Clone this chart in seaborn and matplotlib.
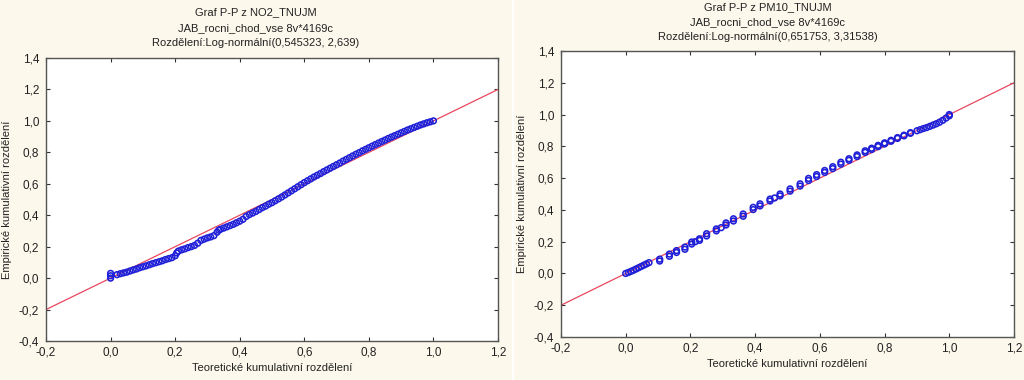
import matplotlib
matplotlib.use("Agg")
import matplotlib.pyplot as plt
import seaborn as sns
import pandas as pd
from matplotlib.lines import Line2D

# ---------------- data ----------------
titles_left = ["Graf P-P z NO2_TNUJM", "JAB_rocni_chod_vse 8v*4169c",
               "Rozdělení:Log-normální(0,545323, 2,639)"]
titles_right = ["Graf P-P z PM10_TNUJM", "JAB_rocni_chod_vse 8v*4169c",
                "Rozdělení:Log-normální(0,651753, 3,31538)"]
xlabel = "Teoretické kumulativní rozdělení"
ylabel = "Empirické kumulativní rozdělení"

xticks = [-0.2, 0.0, 0.2, 0.4, 0.6, 0.8, 1.0, 1.2]
xtick_labels = ["-0,2", "0,0", "0,2", "0,4", "0,6", "0,8", "1,0", "1,2"]
yticks = [-0.4, -0.2, 0.0, 0.2, 0.4, 0.6, 0.8, 1.0, 1.2, 1.4]
ytick_labels = ["-0,4", "-0,2", "0,0", "0,2", "0,4", "0,6", "0,8", "1,0", "1,2", "1,4"]

ref_line = [-0.2, 1.2]

no2_theor = [0.000, 0.000, 0.000, 0.020, 0.030, 0.040, 0.050, 0.060, 0.070, 0.080,
             0.090, 0.100, 0.110, 0.120, 0.130, 0.140, 0.150, 0.160, 0.170, 0.180,
             0.190, 0.200, 0.205, 0.210, 0.220, 0.230, 0.240, 0.250, 0.260, 0.270,
             0.280, 0.290, 0.300, 0.310, 0.320, 0.330, 0.335, 0.340, 0.350, 0.360,
             0.370, 0.380, 0.390, 0.400, 0.410, 0.420, 0.430, 0.440, 0.450, 0.460,
             0.470, 0.480, 0.490, 0.500, 0.510, 0.520, 0.530, 0.540, 0.550, 0.560,
             0.570, 0.580, 0.590, 0.600, 0.610, 0.620, 0.630, 0.640, 0.650, 0.660,
             0.670, 0.680, 0.690, 0.700, 0.710, 0.720, 0.730, 0.740, 0.750, 0.760,
             0.770, 0.780, 0.790, 0.800, 0.810, 0.820, 0.830, 0.840, 0.850, 0.860,
             0.870, 0.880, 0.890, 0.900, 0.910, 0.920, 0.930, 0.940, 0.950, 0.960,
             0.970, 0.980, 0.990, 1.000]
no2_emp = [0.000, 0.015, 0.030, 0.022, 0.028, 0.033, 0.038, 0.045, 0.052, 0.058,
           0.066, 0.072, 0.078, 0.085, 0.092, 0.098, 0.104, 0.110, 0.118, 0.124,
           0.130, 0.142, 0.160, 0.172, 0.180, 0.186, 0.194, 0.200, 0.208, 0.222,
           0.240, 0.248, 0.256, 0.262, 0.270, 0.292, 0.305, 0.310, 0.318, 0.326,
           0.334, 0.342, 0.352, 0.362, 0.374, 0.392, 0.404, 0.414, 0.424, 0.436,
           0.448, 0.458, 0.470, 0.480, 0.492, 0.504, 0.516, 0.529, 0.542, 0.555,
           0.568, 0.581, 0.594, 0.607, 0.619, 0.631, 0.643, 0.654, 0.665, 0.677,
           0.688, 0.699, 0.710, 0.721, 0.732, 0.744, 0.755, 0.766, 0.777, 0.788,
           0.798, 0.809, 0.819, 0.829, 0.839, 0.849, 0.859, 0.869, 0.878, 0.888,
           0.897, 0.906, 0.915, 0.924, 0.933, 0.942, 0.950, 0.958, 0.966, 0.974,
           0.981, 0.988, 0.994, 1.000]

pm10_theor = [0.000, 0.008, 0.016, 0.024, 0.032, 0.040, 0.048, 0.056, 0.064, 0.072,
              0.105, 0.105, 0.135, 0.135, 0.157, 0.157, 0.183, 0.183, 0.204, 0.204,
              0.215, 0.228, 0.228, 0.250, 0.250, 0.280, 0.280, 0.295, 0.310, 0.310,
              0.333, 0.333, 0.363, 0.363, 0.394, 0.394, 0.415, 0.415, 0.446, 0.446,
              0.460, 0.477, 0.477, 0.508, 0.508, 0.539, 0.539, 0.565, 0.565, 0.590,
              0.590, 0.615, 0.615, 0.640, 0.640, 0.665, 0.665, 0.690, 0.690, 0.715,
              0.715, 0.740, 0.740, 0.760, 0.760, 0.780, 0.780, 0.800, 0.800, 0.820,
              0.820, 0.840, 0.840, 0.860, 0.860, 0.880, 0.880, 0.900, 0.910, 0.920,
              0.930, 0.940, 0.950, 0.960, 0.970, 0.980, 0.990, 1.000, 1.000]
pm10_emp = [0.000, 0.006, 0.013, 0.020, 0.028, 0.036, 0.044, 0.052, 0.060, 0.068,
            0.078, 0.090, 0.108, 0.122, 0.132, 0.144, 0.152, 0.166, 0.185, 0.198,
            0.200, 0.208, 0.218, 0.236, 0.250, 0.268, 0.280, 0.288, 0.305, 0.318,
            0.330, 0.344, 0.360, 0.374, 0.402, 0.416, 0.425, 0.438, 0.456, 0.468,
            0.475, 0.488, 0.500, 0.518, 0.532, 0.550, 0.564, 0.585, 0.598, 0.610,
            0.622, 0.636, 0.648, 0.660, 0.672, 0.688, 0.700, 0.712, 0.722, 0.736,
            0.746, 0.762, 0.772, 0.780, 0.788, 0.798, 0.806, 0.815, 0.822, 0.832,
            0.838, 0.850, 0.855, 0.866, 0.870, 0.882, 0.886, 0.898, 0.905, 0.912,
            0.918, 0.926, 0.934, 0.942, 0.952, 0.964, 0.978, 0.992, 1.000]

# ---------------- style ----------------
BG = "#fcf8ec"
POINT = "#1f1fd8"
LINE = "#e8475f"
SPINE = "#555555"
TXT = "#222222"
FS = 8.0

sns.set_style("ticks")
plt.rcParams["font.family"] = ["Liberation Sans", "DejaVu Sans"]
plt.rcParams["font.size"] = FS

fig = plt.figure(figsize=(10.24, 3.8), dpi=100, facecolor=BG)

ax_l = fig.add_axes([46 / 1024, 1 - 341 / 380, 452 / 1024, 283 / 380])
ax_r = fig.add_axes([561 / 1024, 1 - 337 / 380, 453 / 1024, 286 / 380])

panels = [
    (ax_l, no2_theor, no2_emp, titles_left, 256, [12, 28, 43]),
    (ax_r, pm10_theor, pm10_emp, titles_right, 768, [7, 22, 37]),
]

for ax, xs, ys, tlines, tx, tys in panels:
    ax.set_facecolor("white")
    sns.lineplot(x=ref_line, y=ref_line, ax=ax, color=LINE, lw=0.9, zorder=2)
    df = pd.DataFrame({"t": xs, "e": ys})
    sns.scatterplot(data=df, x="t", y="e", ax=ax, marker="o", s=17,
                    facecolors="none", edgecolor=POINT, linewidth=1.15, zorder=3)
    ax.set_xlim(-0.2, 1.2)
    ax.set_ylim(-0.4, 1.4)
    ax.set_xticks(xticks)
    ax.set_xticklabels(xtick_labels)
    ax.set_yticks(yticks)
    ax.set_yticklabels(ytick_labels)
    ax.tick_params(direction="in", length=3, width=0.8, color="#333333",
                   top=True, right=True, labelsize=FS + 0.5, labelcolor=TXT)
    ax.tick_params(axis="y", pad=5)
    ax.tick_params(axis="x", pad=4)
    for sp in ax.spines.values():
        sp.set_color(SPINE)
        sp.set_linewidth(1.0)
    ax.set_xlabel(xlabel, fontsize=FS, color=TXT, labelpad=3)
    ax.set_ylabel(ylabel, fontsize=FS, color=TXT, labelpad=5)
    for line, ypx in zip(tlines, tys):
        fig.text(tx / 1024, 1 - ypx / 380, line, ha="center", va="center",
                 fontsize=FS, color=TXT)

fig.add_artist(Line2D([513 / 1024, 513 / 1024], [0, 1], transform=fig.transFigure,
                      color="white", lw=1.5))

fig.savefig("out.png", dpi=100, facecolor=BG)
